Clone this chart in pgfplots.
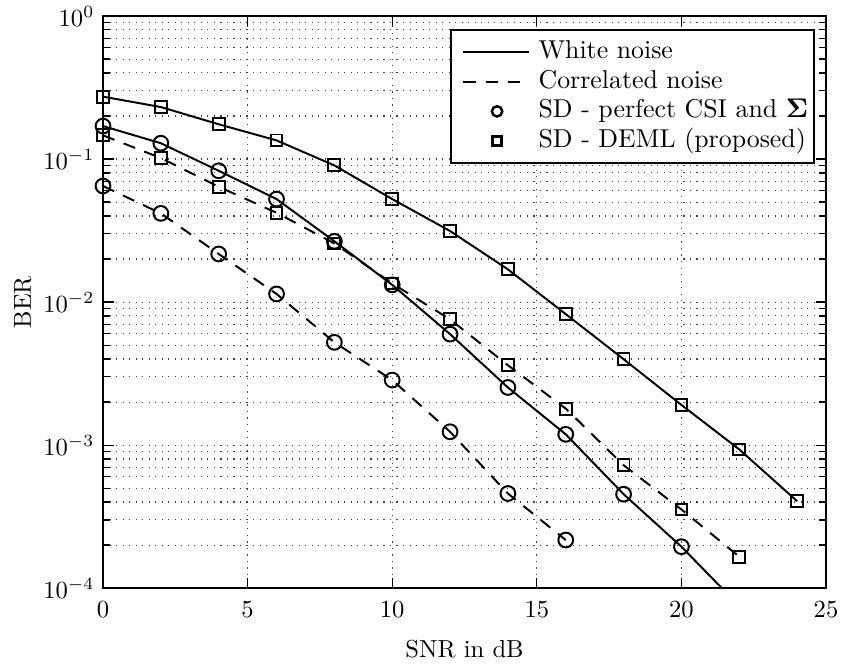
\documentclass[border=0pt]{standalone}
\usepackage{pgfplots}
\pgfplotsset{compat=1.18}
\begin{document}
\begin{tikzpicture}
\useasboundingbox (-41.86pt,-30.9pt) rectangle (301.1pt,239pt);
\begin{axis}[
  at={(0pt,0pt)}, anchor=south west, scale only axis,
  width=293.8pt, height=232.5pt,
  xmin=0, xmax=25, ymode=log, ymin=1e-4, ymax=1,
  xtick={0,5,10,15,20,25},
  ytick={1e-4,1e-3,1e-2,1e-1,1},
  xmajorgrids, ymajorgrids, yminorgrids,
  grid style={black!75, line width=0.45pt, dash pattern=on 0.45pt off 2.2pt},
  minor grid style={black!75, line width=0.45pt, dash pattern=on 0.45pt off 2.2pt},
  axis line style={line width=0.8pt},
  tick style={black, line width=0.5pt},
  xticklabel style={yshift=-1.9pt},
  xlabel={SNR in dB}, ylabel={BER},
  xlabel shift=2.5pt,
  ylabel shift=-2pt,
  legend cell align=left,
  legend style={at={(0.9847,0.977)}, anchor=north east, draw=black, line width=0.8pt,
    fill=white, font=\fontsize{10.5pt}{12pt}\selectfont,
    inner xsep=1.5pt, inner ysep=3pt, row sep=0pt,
    nodes={inner xsep=0.8pt, inner ysep=0.8pt, text height=7.8pt, text depth=2.6pt}},
]
\addlegendimage{legend image code/.code={\path[draw=none] (-0.13cm,0cm) -- (1.045cm,0cm); \draw[black,line width=0.8pt,solid] (0cm,0cm) -- (0.93cm,0cm);}}
\addlegendentry{White noise}
\addlegendimage{legend image code/.code={\path[draw=none] (-0.13cm,0cm) -- (1.045cm,0cm); \draw[black,line width=0.8pt,dash pattern=on 5pt off 4pt] (0cm,0cm) -- (0.93cm,0cm);}}
\addlegendentry{Correlated noise}
\addlegendimage{legend image code/.code={\path[draw=none] (-0.13cm,0cm) -- (1.045cm,0cm); \draw[black,line width=1pt,solid] (0.48cm,0cm) circle (2.1pt);}}
\addlegendentry{SD - perfect CSI and $\mathbf{\Sigma}$}
\addlegendimage{legend image code/.code={\path[draw=none] (-0.13cm,0cm) -- (1.045cm,0cm); \draw[black,line width=1pt,solid] (0.48cm-1.8pt,-1.8pt) rectangle (0.48cm+1.8pt,1.8pt);}}
\addlegendentry{SD - DEML (proposed)}

% white noise, perfect CSI (circles)
\addplot[black, line width=0.8pt, forget plot] coordinates {(20,1.95e-4)(22,7.5e-5)};
\addplot[black, line width=0.8pt, mark=o, mark size=3pt, mark options={solid}, forget plot] coordinates {
(0,0.170)(2,0.129)(4,0.0828)(6,0.0525)(8,0.0266)(10,0.0132)(12,0.00597)(14,0.00253)(16,0.00119)(18,4.54e-4)(20,1.95e-4)};
% white noise, DEML (squares)
\addplot[black, line width=0.8pt, mark=square, mark size=2.4pt, mark options={solid}, forget plot] coordinates {
(0,0.273)(2,0.231)(4,0.175)(6,0.135)(8,0.0903)(10,0.0525)(12,0.0314)(14,0.01694)(16,0.00824)(18,0.00399)(20,0.00191)(22,9.33e-4)(24,4.06e-4)};
% correlated noise, perfect CSI (circles)
\addplot[black, line width=0.8pt, dash pattern=on 5pt off 4pt, mark=o, mark size=3pt, mark options={solid}, forget plot] coordinates {
(0,0.0648)(2,0.0417)(4,0.0217)(6,0.0114)(8,0.00523)(10,0.00285)(12,0.00124)(14,4.59e-4)(16,2.17e-4)};
% correlated noise, DEML (squares)
\addplot[black, line width=0.8pt, dash pattern=on 5pt off 4pt, mark=square, mark size=2.4pt, mark options={solid}, forget plot] coordinates {
(0,0.1465)(2,0.1016)(4,0.064)(6,0.0421)(8,0.0257)(10,0.0135)(12,0.00757)(14,0.00362)(16,0.00180)(18,7.24e-4)(20,3.55e-4)(22,1.66e-4)};
\end{axis}
\end{tikzpicture}
\end{document}
